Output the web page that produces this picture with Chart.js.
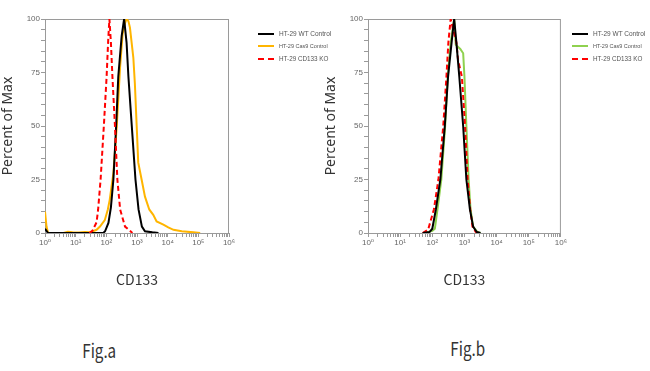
<!DOCTYPE html>
<html>
<head>
<meta charset="utf-8">
<script src="https://cdn.jsdelivr.net/npm/chart.js"></script>
<style>
  body { margin: 0; background: #fff; }
  #wrap { position: relative; width: 650px; height: 371px; overflow: hidden; }
  canvas { position: absolute; }
  .leg { position: absolute; font-family: "Liberation Sans", Arial, sans-serif; color: #555; white-space: nowrap; }
  .leg div { position: absolute; left: 0; height: 10px; }
  .leg span.ln { position: absolute; left: 0; width: 16px; top: 4px; border-top: 2px solid #000; }
  .leg span.tx { position: absolute; left: 21px; top: 0; line-height: 10px; }
  .fig { position: absolute; font-family: "Noto Sans CJK JP", "Noto Sans", sans-serif; font-size: 19px; color: #333; transform: scaleX(0.8); transform-origin: center; }
</style>
</head>
<body>
<div id="wrap">
  <canvas id="graficoA" width="240" height="300" style="left:0;top:0;width:240px;height:300px"></canvas>
  <canvas id="graficoB" width="245" height="300" style="left:323px;top:0;width:245px;height:300px"></canvas>
  <div class="leg" id="legendaA" style="left:258px;top:0"></div>
  <div class="leg" id="legendaB" style="left:572px;top:0"></div>
  <div class="fig" style="left:78px;top:336px">Fig.a</div>
  <div class="fig" style="left:446px;top:334px">Fig.b</div>
</div>
<script>
// Fig.a - CD133 intensity (x) and percent of max (y)
const aWtX = [1, 1.12, 1.26, 79, 91, 117, 141, 170, 209, 245, 316, 380, 457, 525, 676, 891, 1122, 1445, 1820, 3162, 5012];
const aWtY = [2, 1, 0, 0, 0.8, 4.7, 12, 25, 50, 73, 92, 100, 89, 73, 50, 25, 11, 3, 0.8, 0.3, 0];

const aCas9X = [1, 1.12, 1.26, 4, 5.6, 7.9, 12.6, 20, 28, 37, 48, 62, 89, 112, 129, 170, 219, 282, 339, 407, 457, 525, 589, 759, 851, 977, 1096, 1413, 1820, 2512, 3388, 4365, 7244, 10471, 15488, 28840, 69183, 114815];
const aCas9Y = [10, 3, 0, 0, 0.6, 0.3, 0.2, 0.5, 0.4, 0.8, 1.5, 3, 6, 11, 15.5, 28, 50, 78, 93, 98, 100, 99, 96, 82, 70, 50, 33, 25, 17, 11, 8.5, 5.4, 3.9, 2.6, 1.5, 0.8, 0.3, 0];

const aKoX = [28, 35, 48, 54, 65, 83, 102, 115, 126, 141, 158, 191, 229, 282, 407, 589, 708];
const aKoY = [0, 1, 5, 11, 25, 50, 73, 90, 100, 89, 73, 50, 25, 11, 3, 1, 0];

// Fig.b
const bWtX = [50, 83, 100, 129, 178, 245, 309, 398, 479, 562, 692, 912, 1148, 1479, 1862, 2399, 3162];
const bWtY = [0, 0.5, 2, 11, 25, 50, 73, 89, 100, 89, 73, 50, 25, 11, 3, 0.5, 0];

const bCas9X = [56, 100, 120, 145, 191, 251, 302, 372, 479, 537, 741, 912, 1000, 1148, 1349, 1549, 1862, 2512, 3162];
const bCas9Y = [0, 1, 2, 11, 25, 50, 73, 89, 100, 88, 86, 84, 73, 50, 25, 11, 3, 0.5, 0];

const bKoX = [50, 74, 112, 155, 219, 275, 316, 372, 447, 562, 631, 832, 1047, 1259, 1514, 1778, 2239, 2818];
const bKoY = [0, 1.5, 11, 25, 50, 73, 89, 100, 95, 89, 81, 73, 50, 25, 11, 3, 0.5, 0];

const nomes = ['HT-29 WT Control', 'HT-29 Cas9 Control', 'HT-29 CD133 KO'];
const tamanhos = [6.5, 5.5, 6.3];
const sobrescrito = ['⁰', '¹', '²', '³', '⁴', '⁵', '⁶'];

function pontos(xs, ys) {
    return xs.map((x, i) => ({ x: x, y: ys[i] }));
}

// moldura cinza em volta da area do grafico
const moldura = {
    id: 'moldura',
    beforeDatasetsDraw(chart) {
        const { ctx, chartArea } = chart;
        ctx.save();
        ctx.strokeStyle = '#9a9a9a';
        ctx.lineWidth = 1;
        ctx.strokeRect(chartArea.left + 0.5, chartArea.top + 0.5, chartArea.width - 1, chartArea.height);
        ctx.restore();
    }
};

function criaGrafico(id, direita, series) {
    const canvas = document.getElementById(id);
    return new Chart(canvas, {
        type: 'line',
        data: {
            datasets: series.map(s => ({
                label: s.label,
                data: s.data,
                borderColor: s.cor,
                borderWidth: 2,
                borderDash: s.dash || [],
                pointRadius: 0,
                tension: 0,
                fill: false,
                order: s.order
            }))
        },
        options: {
            responsive: false,
            animation: false,
            layout: { padding: { top: 19, right: direita, left: 0, bottom: 0 } },
            plugins: { legend: { display: false }, tooltip: { enabled: false } },
            scales: {
                x: {
                    type: 'logarithmic',
                    min: 1,
                    max: 1000000,
                    afterFit: s => { s.height = 67; },
                    afterBuildTicks: s => {
                        const t = [];
                        for (let e = 0; e < 6; e++) {
                            for (let m = 1; m < 10; m++) t.push({ value: m * Math.pow(10, e) });
                        }
                        t.push({ value: 1000000 });
                        s.ticks = t;
                    },
                    grid: { drawOnChartArea: false, tickLength: 4, color: '#9a9a9a' },
                    border: { color: '#9a9a9a' },
                    ticks: {
                        autoSkip: false,
                        maxRotation: 0,
                        padding: 1,
                        color: '#666',
                        font: { family: 'Liberation Sans, DejaVu Sans', size: 8 },
                        callback: v => {
                            const e = Math.round(Math.log10(v));
                            return Math.abs(Math.log10(v) - e) < 1e-9 ? '10' + sobrescrito[e] : '';
                        }
                    },
                    title: {
                        display: true,
                        text: 'CD133',
                        color: '#333',
                        font: { family: 'Noto Sans CJK JP', size: 14 },
                        padding: { top: 0, bottom: 12 }
                    }
                },
                y: {
                    min: 0,
                    max: 100,
                    afterFit: s => { s.width = 45; },
                    grid: { drawOnChartArea: false, tickLength: 4, color: '#9a9a9a' },
                    border: { color: '#9a9a9a' },
                    ticks: {
                        stepSize: 5,
                        autoSkip: false,
                        padding: 1,
                        color: '#666',
                        font: { family: 'Liberation Sans', size: 8 },
                        callback: v => (v % 25 === 0 ? v : '')
                    },
                    title: {
                        display: true,
                        text: 'Percent of Max',
                        color: '#333',
                        font: { family: 'Noto Sans', size: 14 },
                        padding: { top: 0, bottom: 0 }
                    }
                }
            }
        },
        plugins: [moldura]
    });
}

function criaLegenda(id, cores, dashes) {
    const el = document.getElementById(id);
    const tops = [29, 41, 54];
    nomes.forEach((n, i) => {
        const d = document.createElement('div');
        d.style.top = tops[i] + 'px';
        const estilo = dashes[i] ? 'dashed' : 'solid';
        d.innerHTML = '<span class="ln" style="border-top:2px ' + estilo + ' ' + cores[i] + '"></span>' +
            '<span class="tx" style="font-size:' + tamanhos[i] + 'px">' + n + '</span>';
        el.appendChild(d);
    });
}

const graficoA = criaGrafico('graficoA', 11, [
    { label: nomes[0], data: pontos(aWtX, aWtY), cor: '#000000', order: 1 },
    { label: nomes[1], data: pontos(aCas9X, aCas9Y), cor: '#FFB500', order: 2 },
    { label: nomes[2], data: pontos(aKoX, aKoY), cor: '#FF0000', dash: [5, 3], order: 0 }
]);

const graficoB = criaGrafico('graficoB', 7, [
    { label: nomes[0], data: pontos(bWtX, bWtY), cor: '#000000', order: 0 },
    { label: nomes[1], data: pontos(bCas9X, bCas9Y), cor: '#8FD14F', order: 2 },
    { label: nomes[2], data: pontos(bKoX, bKoY), cor: '#FF0000', dash: [5, 3], order: 1 }
]);

criaLegenda('legendaA', ['#000000', '#FFB500', '#FF0000'], [false, false, true]);
criaLegenda('legendaB', ['#000000', '#8FD14F', '#FF0000'], [false, false, true]);
</script>
</body>
</html>
